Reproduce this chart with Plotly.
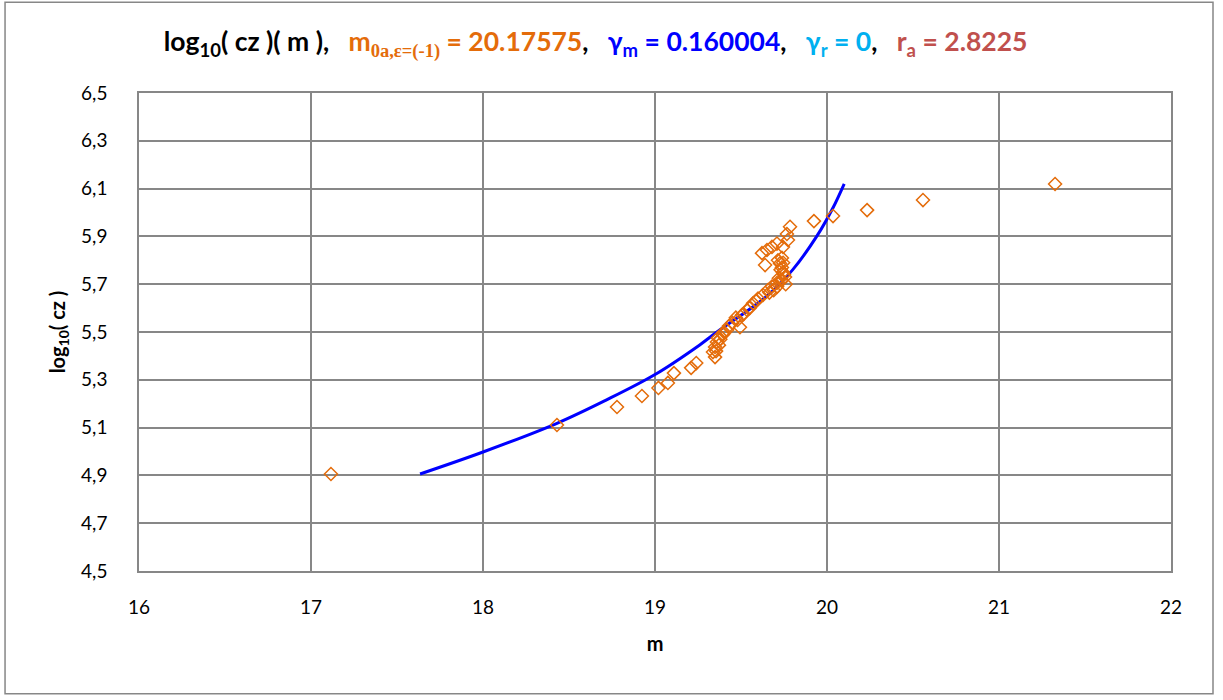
import plotly.graph_objects as go

# Observed galaxies: apparent magnitude m vs log10(cz)
m_obs = [17.116, 18.43, 18.779, 18.924, 19.02, 19.075, 19.11, 19.21, 19.24,
         19.349, 19.337, 19.349, 19.36, 19.366, 19.395, 19.38, 19.419, 19.45,
         19.48, 19.494, 19.506, 19.535, 19.57, 19.599, 19.628, 19.657, 19.68,
         19.709, 19.738, 19.756, 19.744, 19.738, 19.727, 19.715, 19.738, 19.64,
         19.622, 19.651, 19.68, 19.709, 19.744, 19.773, 19.785, 19.767, 19.75,
         19.73, 19.72, 19.745, 19.76, 19.735, 19.71, 19.69, 19.665, 19.59,
         19.55, 19.515, 19.47, 19.43, 19.4, 19.372, 19.355,
         19.924, 20.035, 20.233, 20.558, 21.326]
logcz_obs = [4.906, 5.111, 5.186, 5.232, 5.266, 5.287, 5.328, 5.35, 5.37,
             5.395, 5.416, 5.437, 5.458, 5.475, 5.49, 5.47, 5.508, 5.538,
             5.55, 5.52, 5.571, 5.592, 5.62, 5.64, 5.655, 5.676, 5.69,
             5.705, 5.718, 5.73, 5.75, 5.77, 5.787, 5.80, 5.81, 5.78,
             5.83, 5.843, 5.856, 5.87, 5.856, 5.885, 5.94, 5.91, 5.74,
             5.76, 5.725, 5.79, 5.70, 5.715, 5.69, 5.675, 5.665, 5.63,
             5.60, 5.575, 5.56, 5.525, 5.50, 5.445, 5.42,
             5.964, 5.985, 6.01, 6.052, 6.119]

# Model curve log10(cz)(m)
m_fit = [17.634, 18.0, 18.43, 18.71, 19.0, 19.26, 19.36, 19.65, 19.80,
         19.94, 20.035, 20.10]
logcz_fit = [4.906, 4.998, 5.118, 5.213, 5.322, 5.446, 5.50, 5.65, 5.76,
             5.90, 6.02, 6.12]

y_ticks = [4.5, 4.7, 4.9, 5.1, 5.3, 5.5, 5.7, 5.9, 6.1, 6.3, 6.5]
y_tick_text = [f"{v:.1f}".replace(".", ",") for v in y_ticks]
x_ticks = [16, 17, 18, 19, 20, 21, 22]

ORANGE = "#E46C0A"
BLUE = "#0000FF"
CYAN = "#00B0F0"
RED = "#C0504D"
GRID = "#878787"
FONT = "Lato, Carlito, Calibri, sans-serif"

fig = go.Figure()
fig.add_trace(go.Scatter(
    x=m_fit, y=logcz_fit, mode="lines", line_shape="spline",
    line=dict(color=BLUE, width=3), hoverinfo="skip", showlegend=False))
fig.add_trace(go.Scatter(
    x=m_obs, y=logcz_obs, mode="markers",
    marker=dict(symbol="diamond-open", size=10, color=ORANGE,
                line=dict(color=ORANGE, width=1.5)),
    showlegend=False))

sep = "&nbsp;&nbsp;&nbsp;"
title = (
    f"log<sub>10</sub>( cz )( m ),{sep}"
    f"<span style='color:{ORANGE}'>m<sub><span style='font-family:Liberation Serif'>0a,ε=(-1)</span></sub> = 20.17575</span>,{sep}"
    f"<span style='color:{BLUE}'>γ<sub>m</sub> = 0.160004</span>,{sep}"
    f"<span style='color:{CYAN}'>γ<sub>r</sub> = 0</span>,{sep}"
    f"<span style='color:{RED}'>r<sub>a</sub> = 2.8225</span>"
)

fig.update_layout(
    width=1223, height=700,
    margin=dict(l=139, r=52, t=93, b=129),
    paper_bgcolor="white", plot_bgcolor="white",
    font=dict(family=FONT, size=19, color="#000000"),
    title=dict(text=f"<b>{title}</b>", x=0.487, xanchor="center",
               y=0.94, yanchor="middle",
               font=dict(family=FONT, size=26.5, color="#000000")),
    xaxis=dict(range=[16, 22], tickvals=x_ticks, showgrid=True,
               gridcolor=GRID, gridwidth=1.5, zeroline=False,
               showline=True, linecolor=GRID, linewidth=1.5, mirror=True,
               ticks="", ticklabelstandoff=18,
               title=dict(text="<b>m</b>", standoff=20,
                          font=dict(family=FONT, size=20))),
    yaxis=dict(range=[4.5, 6.5], tickvals=y_ticks, ticktext=y_tick_text,
               showgrid=True, gridcolor=GRID, gridwidth=1.5, zeroline=False,
               showline=True, linecolor=GRID, linewidth=1.5, mirror=True,
               ticks="", ticklabelstandoff=26,
               title=dict(text="<b>log<sub>10</sub>( cz )</b>", standoff=10,
                          font=dict(family=FONT, size=20))),
    shapes=[dict(type="rect", xref="paper", yref="paper",
                 x0=-0.1298, x1=1.0407, y0=-0.257, y1=1.19,
                 line=dict(color=GRID, width=1.5), layer="below")],
)

fig.write_html("out.html")
